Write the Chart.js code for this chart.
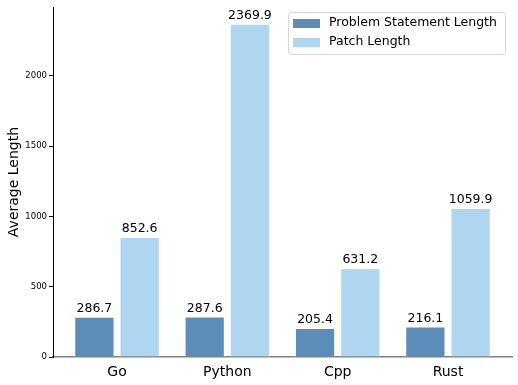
<!DOCTYPE html>
<html>
<head>
<meta charset="utf-8">
<script src="https://cdn.jsdelivr.net/npm/chart.js@4/dist/chart.umd.min.js"></script>
<style>
  html, body { margin: 0; padding: 0; background: #fff; }
  #wrap { width: 518px; height: 385px; }
</style>
</head>
<body>
<div id="wrap"><canvas id="lenChart"></canvas></div>
<script>
const languages = ["Go", "Python", "Cpp", "Rust"]
const problemLen = [286.7, 287.6, 205.4, 216.1]
const patchLen = [852.6, 2369.9, 631.2, 1059.9]
const yTicks = [0, 500, 1000, 1500, 2000]

const FONT = "'DejaVu Sans', sans-serif"

// value labels above each bar
const barLabels = {
    id: "barLabels",
    afterDatasetsDraw(chart) {
        const ctx = chart.ctx
        ctx.save()
        ctx.font = "12.5px " + FONT
        ctx.fillStyle = "#000"
        ctx.textAlign = "center"
        ctx.textBaseline = "bottom"
        chart.data.datasets.forEach((ds, i) => {
            chart.getDatasetMeta(i).data.forEach((bar, j) => {
                ctx.fillText(ds.data[j].toFixed(1), bar.x, bar.y - 2)
            })
        })
        ctx.restore()
    }
}

// matplotlib-like legend box in the upper right
const boxLegend = {
    id: "boxLegend",
    afterDraw(chart) {
        const ctx = chart.ctx
        const x = 288, y = 12, w = 217, h = 42
        ctx.save()
        ctx.beginPath()
        ctx.roundRect(x + 0.5, y + 0.5, w, h, 3)
        ctx.fillStyle = "rgba(255,255,255,0.8)"
        ctx.fill()
        ctx.strokeStyle = "#d6d6d6"
        ctx.lineWidth = 1
        ctx.stroke()
        ctx.font = "12.5px " + FONT
        ctx.textBaseline = "middle"
        chart.data.datasets.forEach((ds, i) => {
            const cy = y + 11 + i * 19
            ctx.fillStyle = ds.backgroundColor
            ctx.fillRect(x + 5, cy - 4, 27, 9)
            ctx.fillStyle = "#000"
            ctx.fillText(ds.label, x + 41, cy)
        })
        ctx.restore()
    }
}

new Chart(document.getElementById("lenChart"), {
    type: "bar",
    data: {
        labels: languages,
        datasets: [
            {
                label: "Problem Statement Length",
                data: problemLen,
                backgroundColor: "#5b8db8",
                borderColor: "#ffffff",
                borderWidth: 1,
                categoryPercentage: 0.82,
                barPercentage: 0.89
            },
            {
                label: "Patch Length",
                data: patchLen,
                backgroundColor: "#aed6f1",
                borderColor: "#ffffff",
                borderWidth: 1,
                categoryPercentage: 0.82,
                barPercentage: 0.89
            }
        ]
    },
    options: {
        responsive: true,
        maintainAspectRatio: false,
        animation: false,
        layout: { padding: { top: 6, right: 6, left: 0, bottom: 0 } },
        plugins: {
            legend: { display: false },
            tooltip: { enabled: false }
        },
        scales: {
            x: {
                afterBuildTicks(scale) {
                    // matplotlib-ish x limits
                    scale._startValue = -0.58
                    scale._valueRange = 4.16
                },
                afterFit(scale) { scale.height = 28 },
                grid: { display: false, drawTicks: false },
                border: { color: "#808080", width: 1.6 },
                ticks: { color: "#000", padding: 7, font: { family: FONT, size: 14 } }
            },
            y: {
                min: 0,
                max: 2488,
                afterBuildTicks(scale) {
                    scale.ticks = yTicks.map(v => ({ value: v }))
                },
                afterFit(scale) { scale.width = 53 },
                grid: { drawOnChartArea: false, drawTicks: true, tickLength: 4, color: "#000" },
                border: { color: "#000", width: 1 },
                ticks: {
                    color: "#000",
                    padding: 2,
                    font: { family: FONT, size: 8.5 },
                    callback: v => String(v)
                },
                title: {
                    display: true,
                    text: "Average Length",
                    color: "#000",
                    padding: { top: 6, bottom: 0 },
                    font: { family: FONT, size: 14 }
                }
            }
        }
    },
    plugins: [barLabels, boxLegend]
})
</script>
</body>
</html>
